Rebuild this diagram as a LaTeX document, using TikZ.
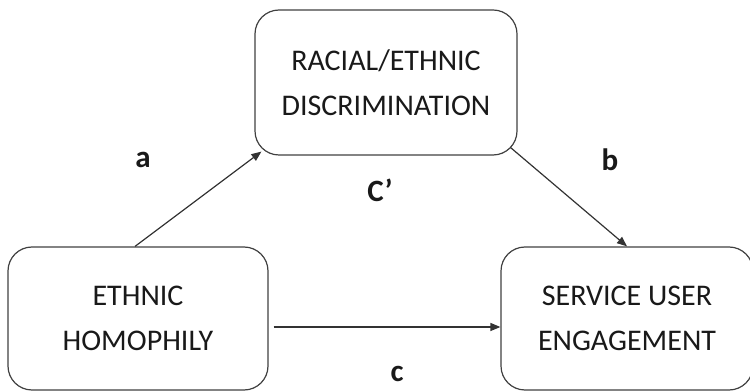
\documentclass[tikz,border=0pt]{standalone}
\usepackage{fontspec}
\setmainfont{Carlito}
\usetikzlibrary{arrows.meta}
\tikzset{
  varbox/.style={draw=black!75, line width=1.2pt, rounded corners=24pt, align=center,
    font=\fontsize{30}{45}\selectfont, text=black!90},
  pathlabel/.style={font=\fontsize{31}{34}\selectfont\bfseries, text=black!90, inner sep=0pt},
  link/.style={draw=black!80, line width=1.2pt, -{Triangle[length=10pt,width=8pt]}}
}
\begin{document}
\begin{tikzpicture}[x=1pt,y=1pt]
\useasboundingbox (0,0) rectangle (750,391);
\node[varbox, minimum width=262pt, minimum height=145pt] (med) at (386,308.5) {RACIAL/ETHNIC\\DISCRIMINATION};
\node[varbox, minimum width=260pt, minimum height=143pt] (iv) at (138,72.5) {ETHNIC\\HOMOPHILY};
\node[varbox, minimum width=252pt, minimum height=143pt] (dv) at (627,72.5) {SERVICE USER\\ENGAGEMENT};
\draw[link] ([xshift=-3pt]iv.north) -- ([xshift=7pt,yshift=4pt]med.south west);
\draw[link] ([xshift=-7pt,yshift=8pt]med.south east) -- (dv.north);
\draw[link] ([xshift=5pt,yshift=-8.5pt]iv.east) -- ([yshift=-8.5pt]dv.west);
\node[pathlabel] (la) at (143,231) {a};
\node[pathlabel] (lb) at (610,231) {b};
\node[pathlabel] (lcp) at (380,201) {C’};
\node[pathlabel] (lc) at (397,17) {c};
\end{tikzpicture}
\end{document}
